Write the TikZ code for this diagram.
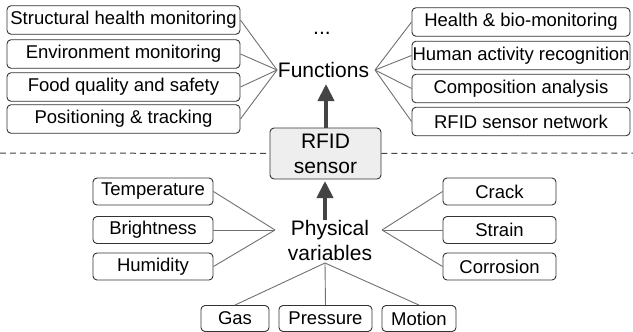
\documentclass[tikz,border=0pt]{standalone}
\usepackage{fontspec}
\setmainfont{Liberation Sans}
\usetikzlibrary{arrows.meta}
\definecolor{boxline}{HTML}{333333}
\definecolor{conn}{HTML}{707070}
\definecolor{arrowc}{HTML}{444444}
\definecolor{rfidfill}{HTML}{EEEEEE}
\begin{document}
\begin{tikzpicture}[x=1pt,y=-1pt,
  fbox/.style={draw=boxline,line width=0.9pt,rounded corners=4pt,inner sep=0pt,
    font=\fontsize{18.5}{22}\selectfont,minimum height=28.5pt},
  lbl/.style={inner sep=0pt,font=\fontsize{21}{25}\selectfont,align=center},
  conline/.style={draw=conn,line width=0.9pt},
  bigarrow/.style={draw=arrowc,line width=4pt,-{Triangle[length=17pt,width=16pt]}},
  dashline/.style={draw=arrowc,line width=1pt,dash pattern=on 6pt off 4pt}]
\useasboundingbox (0,0) rectangle (633,332);
% functions side
\node[fbox,minimum width=233pt] (f1) at (123.5,20) {Structural health monitoring};
\node[fbox,minimum width=233pt] (f2) at (123.5,54) {Environment monitoring};
\node[fbox,minimum width=233pt] (f3) at (123.5,87) {Food quality and safety};
\node[fbox,minimum width=233pt] (f4) at (123.5,119) {Positioning \& tracking};
\node[fbox,minimum width=218pt] (g1) at (521,22) {Health \& bio-monitoring};
\node[fbox,minimum width=218pt] (g2) at (521,55.5) {Human activity recognition};
\node[fbox,minimum width=218pt] (g3) at (521,88.5) {Composition analysis};
\node[fbox,minimum width=218pt] (g4) at (521,121.5) {RFID sensor network};
\node[lbl] (func) at (323.5,70) {Functions};
\node[lbl] (dots) at (322,33) {...};
\coordinate (fl) at (277,70);
\coordinate (fr) at (375,70);
\foreach \n in {f1,f2,f3,f4} \draw[conline] (\n.east) -- (fl);
\foreach \n in {g1,g2,g3,g4} \draw[conline] (\n.west) -- (fr);
% dashed separator and RFID sensor
\coordinate (dl) at (0,153);
\coordinate (dr) at (633,153);
\node[draw=boxline,line width=0.9pt,rounded corners=4pt,fill=rfidfill,
  minimum width=111pt,minimum height=51pt,inner sep=0pt,
  font=\fontsize{21}{25}\selectfont,align=center] (rfid) at (325.5,153.5) {RFID\\sensor};
\draw[dashline] (dl) -- (rfid.west);
\draw[dashline] (rfid.east) -- (dr);
\coordinate (fb) at (326,84);
\draw[bigarrow] (rfid.north -| fb) -- (fb);
% physical variables
\node[lbl] (phys) at (330,240) {Physical\\variables};
\coordinate (pb) at (325,181);
\draw[bigarrow] (phys.north -| pb) -- (pb);
\node[fbox,minimum width=120pt,minimum height=27pt] (t1) at (153,191.5) {Temperature};
\node[fbox,minimum width=120pt,minimum height=27pt] (t2) at (153,230) {Brightness};
\node[fbox,minimum width=120pt,minimum height=27pt] (t3) at (153,266.5) {Humidity};
\node[fbox,minimum width=113pt,minimum height=27pt] (c1) at (499.5,191.5) {Crack};
\node[fbox,minimum width=113pt,minimum height=27pt] (c2) at (499.5,230) {Strain};
\node[fbox,minimum width=113pt,minimum height=27pt] (c3) at (499.5,266.5) {Corrosion};
\node[fbox,minimum width=68pt,minimum height=26pt] (b1) at (235,318.5) {Gas};
\node[fbox,minimum width=93pt,minimum height=26pt] (b2) at (325.5,318.5) {Pressure};
\node[fbox,minimum width=74pt,minimum height=26pt] (b3) at (419,318.5) {Motion};
\coordinate (pl) at (275,230);
\coordinate (pr) at (382,230);
\coordinate (pd) at (325,263);
\foreach \n in {t1,t2,t3} \draw[conline] (\n.east) -- (pl);
\foreach \n in {c1,c2,c3} \draw[conline] (\n.west) -- (pr);
\foreach \n in {b1,b2,b3} \draw[conline] (\n.north) -- (pd);
\end{tikzpicture}
\end{document}
